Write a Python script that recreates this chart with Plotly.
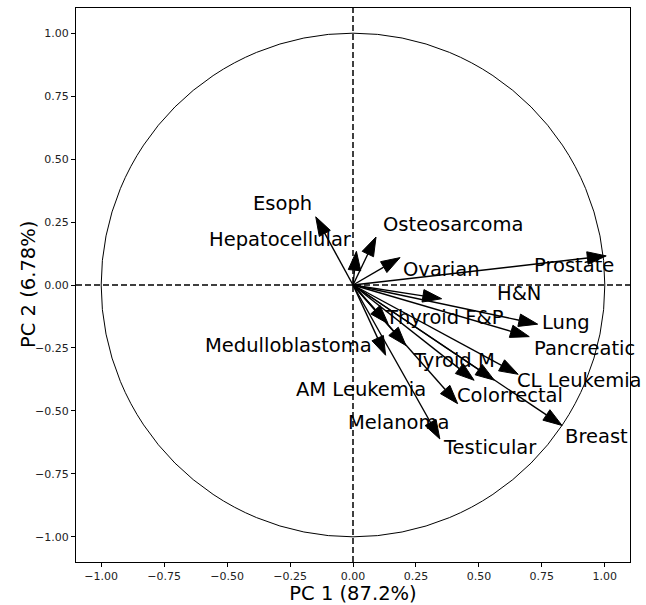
import numpy as np
import plotly.graph_objects as go

# ---- data (PCA loadings) ----
variables = ["Esoph", "Hepatocellular", "Osteosarcoma", "Ovarian", "Prostate",
             "H&N", "Lung", "Pancreatic", "Thyroid F&P", "Medulloblastoma",
             "AM Leukemia", "Melanoma", "Colorrectal", "Tyroid M", "CL Leukemia",
             "Breast", "Testicular"]
pc1 = [-0.112, 0.006, 0.059, 0.122, 0.931,
       0.278, 0.660, 0.628, 0.089, 0.098,
       0.161, 0.366, 0.422, 0.499, 0.590,
       0.768, 0.308]
pc2 = [0.205, 0.059, 0.123, 0.071, 0.107,
       -0.043, -0.140, -0.184, -0.098, -0.211,
       -0.184, -0.415, -0.332, -0.336, -0.319,
       -0.516, -0.546]
pc1_label = "PC 1 (87.2%)"
pc2_label = "PC 2 (6.78%)"
tick_vals = [-1.0, -0.75, -0.5, -0.25, 0.0, 0.25, 0.5, 0.75, 1.0]

# label placement (text centres, data units)
label_pos = {
    "Esoph": (-0.278, 0.323), "Hepatocellular": (-0.288, 0.179),
    "Osteosarcoma": (0.398, 0.239), "Ovarian": (0.350, 0.060),
    "Prostate": (0.879, 0.076), "H&N": (0.660, -0.032),
    "Lung": (0.847, -0.147), "Pancreatic": (0.918, -0.251),
    "Thyroid F&P": (0.362, -0.131), "Medulloblastoma": (-0.258, -0.239),
    "AM Leukemia": (0.032, -0.414), "Melanoma": (0.179, -0.546),
    "Colorrectal": (0.624, -0.438), "Tyroid M": (0.402, -0.299),
    "CL Leukemia": (0.899, -0.378), "Breast": (0.966, -0.602),
    "Testicular": (0.545, -0.645),
}

HW, HL = 0.05, 0.075  # arrow head width / length (data units)
FONT = "DejaVu Sans"

line_x, line_y, head_x, head_y = [], [], [], []
for x, y in zip(pc1, pc2):
    d = np.array([x, y])
    u = d / np.linalg.norm(d)
    n = np.array([-u[1], u[0]])
    tip = d + HL * u
    left = d + HW / 2 * n
    right = d - HW / 2 * n
    line_x += [0, x, None]
    line_y += [0, y, None]
    head_x += [left[0], tip[0], right[0], left[0], None]
    head_y += [left[1], tip[1], right[1], left[1], None]

fig = go.Figure()
fig.add_trace(go.Scatter(x=line_x, y=line_y, mode="lines",
                         line=dict(color="black", width=1.4),
                         hoverinfo="skip", showlegend=False))
fig.add_trace(go.Scatter(x=head_x, y=head_y, mode="lines", fill="toself",
                         fillcolor="black", line=dict(color="black", width=1),
                         hoverinfo="skip", showlegend=False))

# unit circle
fig.add_shape(type="circle", xref="x", yref="y", x0=-1, y0=-1, x1=1, y1=1,
              line=dict(color="black", width=1), layer="below")
# dashed zero lines
fig.add_shape(type="line", xref="paper", yref="y", x0=0, x1=1, y0=0, y1=0,
              line=dict(color="black", width=1.5, dash="6px,3px"), layer="below")
fig.add_shape(type="line", xref="x", yref="paper", x0=0, x1=0, y0=0, y1=1,
              line=dict(color="black", width=1.5, dash="6px,3px"), layer="below")

for name in variables:
    lx, ly = label_pos[name]
    fig.add_annotation(x=lx, y=ly, text=name, showarrow=False,
                       xanchor="center", yanchor="middle",
                       font=dict(family=FONT, size=19.5, color="black"))

# y-axis title placed as rotated text
fig.add_annotation(xref="paper", yref="paper", x=0, y=0.5, xshift=-48,
                   text=pc2_label, textangle=-90, showarrow=False,
                   xanchor="center", yanchor="middle",
                   font=dict(family=FONT, size=19.5, color="black"))

axis_common = dict(range=[-1.1, 1.1], tickvals=tick_vals, tickformat=".2f",
                   showgrid=False, zeroline=False, showline=True, mirror=True,
                   linecolor="black", linewidth=1, ticks="outside", ticklen=4,
                   tickcolor="black", automargin=False,
                   tickfont=dict(family=FONT, size=11, color="#222"))

fig.update_xaxes(**axis_common,
                 title=dict(text=pc1_label, standoff=1,
                            font=dict(family=FONT, size=19.5, color="black")))
fig.update_yaxes(**axis_common)

fig.update_layout(width=646, height=605,
                  margin=dict(l=76, r=16, t=8, b=43, autoexpand=False),
                  plot_bgcolor="white", paper_bgcolor="white",
                  showlegend=False)

fig.write_html("out.html", config={"displayModeBar": False},
               post_script="document.body.style.margin='0px';document.body.style.overflow='hidden';")
